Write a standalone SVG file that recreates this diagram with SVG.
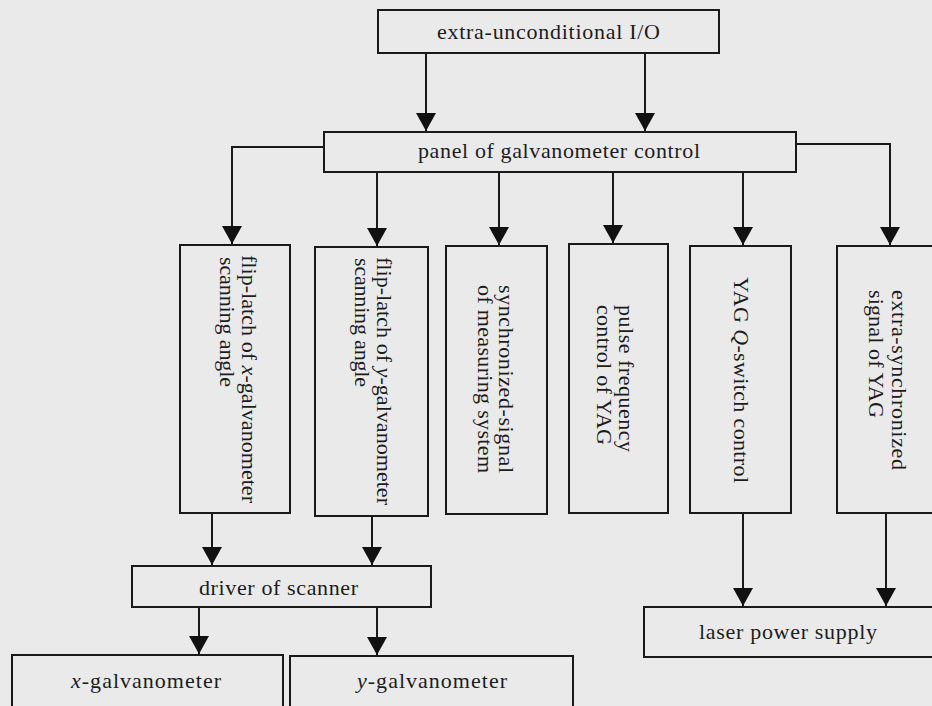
<svg xmlns="http://www.w3.org/2000/svg" width="932" height="706" viewBox="0 0 932 706">
<style>
.bg{fill:#eaeaea}
.box{fill:none;stroke:#1a1a1a;stroke-width:2}
.t{font-family:"Liberation Serif","Times New Roman",serif;font-size:22px;fill:#1c1c1c}
.c{text-anchor:middle}
.con{fill:none;stroke:#1a1a1a;stroke-width:2}
</style>
<defs>
<marker id="ah" markerUnits="userSpaceOnUse" markerWidth="18" markerHeight="20" viewBox="0 0 18 20" refX="18" refY="10" orient="auto">
<path d="M0,0 L18,10 L0,20 Z" fill="#111"/>
</marker>
</defs>
<rect class="bg" x="0" y="0" width="932" height="706"/>

<g id="connectors">
<path class="con" d="M426,53 V131" marker-end="url(#ah)"/>
<path class="con" d="M645,53 V131" marker-end="url(#ah)"/>
<path class="con" d="M324,147 H232 V244" marker-end="url(#ah)"/>
<path class="con" d="M377,172 V246" marker-end="url(#ah)"/>
<path class="con" d="M499,172 V245" marker-end="url(#ah)"/>
<path class="con" d="M613,172 V243" marker-end="url(#ah)"/>
<path class="con" d="M743,172 V245" marker-end="url(#ah)"/>
<path class="con" d="M796,144 H890 V245" marker-end="url(#ah)"/>
<path class="con" d="M212,513 V565" marker-end="url(#ah)"/>
<path class="con" d="M372,516 V565" marker-end="url(#ah)"/>
<path class="con" d="M199,607 V654" marker-end="url(#ah)"/>
<path class="con" d="M377,607 V655" marker-end="url(#ah)"/>
<path class="con" d="M743,513 V606" marker-end="url(#ah)"/>
<path class="con" d="M886,513 V606" marker-end="url(#ah)"/>
</g>

<g id="io">
<rect class="box" x="378" y="10" width="341" height="43"/>
<text class="t c" x="548.5" y="39" textLength="223">extra-unconditional I/O</text>
</g>

<g id="panel">
<rect class="box" x="324" y="132" width="472" height="40"/>
<text class="t c" x="559" y="158" textLength="282">panel of galvanometer control</text>
</g>

<g id="flipx">
<rect class="box" x="180" y="245" width="110" height="268"/>
<text class="t" transform="translate(242,255) rotate(90)" textLength="248">flip-latch of <tspan font-style="italic">x</tspan>-galvanometer</text>
<text class="t" transform="translate(220,257) rotate(90)" textLength="130">scanning angle</text>
</g>

<g id="flipy">
<rect class="box" x="315" y="247" width="113" height="269"/>
<text class="t" transform="translate(377,257) rotate(90)" textLength="248">flip-latch of <tspan font-style="italic">y</tspan>-galvanometer</text>
<text class="t" transform="translate(355,258) rotate(90)" textLength="129">scanning angle</text>
</g>

<g id="sync">
<rect class="box" x="446" y="246" width="101" height="268"/>
<text class="t" transform="translate(499,285) rotate(90)" textLength="188">synchronized-signal</text>
<text class="t" transform="translate(478,285) rotate(90)" textLength="188">of measuring system</text>
</g>

<g id="pulse">
<rect class="box" x="569" y="244" width="99" height="269"/>
<text class="t" transform="translate(619,305) rotate(90)" textLength="147">pulse frequency</text>
<text class="t" transform="translate(597,305) rotate(90)" textLength="140">control of YAG</text>
</g>

<g id="qswitch">
<rect class="box" x="690" y="246" width="101" height="267"/>
<text class="t" transform="translate(734,277) rotate(90)" textLength="206">YAG <tspan font-style="italic">Q</tspan>-switch control</text>
</g>

<g id="extsync">
<rect class="box" x="837" y="246" width="103" height="267"/>
<text class="t" transform="translate(892,290) rotate(90)" textLength="180">extra-synchronized</text>
<text class="t" transform="translate(869,290) rotate(90)" textLength="128">signal of YAG</text>
</g>

<g id="driver">
<rect class="box" x="132" y="566" width="299" height="41"/>
<text class="t c" x="278.5" y="595" textLength="159">driver of scanner</text>
</g>

<g id="xgalv">
<rect class="box" x="12" y="655" width="271" height="60"/>
<text class="t c" x="146" y="688" textLength="150"><tspan font-style="italic">x</tspan>-galvanometer</text>
</g>

<g id="ygalv">
<rect class="box" x="290" y="656" width="283" height="60"/>
<text class="t c" x="432" y="688" textLength="150"><tspan font-style="italic">y</tspan>-galvanometer</text>
</g>

<g id="laser">
<rect class="box" x="644" y="607" width="296" height="50"/>
<text class="t c" x="788" y="639" textLength="178">laser power supply</text>
</g>
</svg>
